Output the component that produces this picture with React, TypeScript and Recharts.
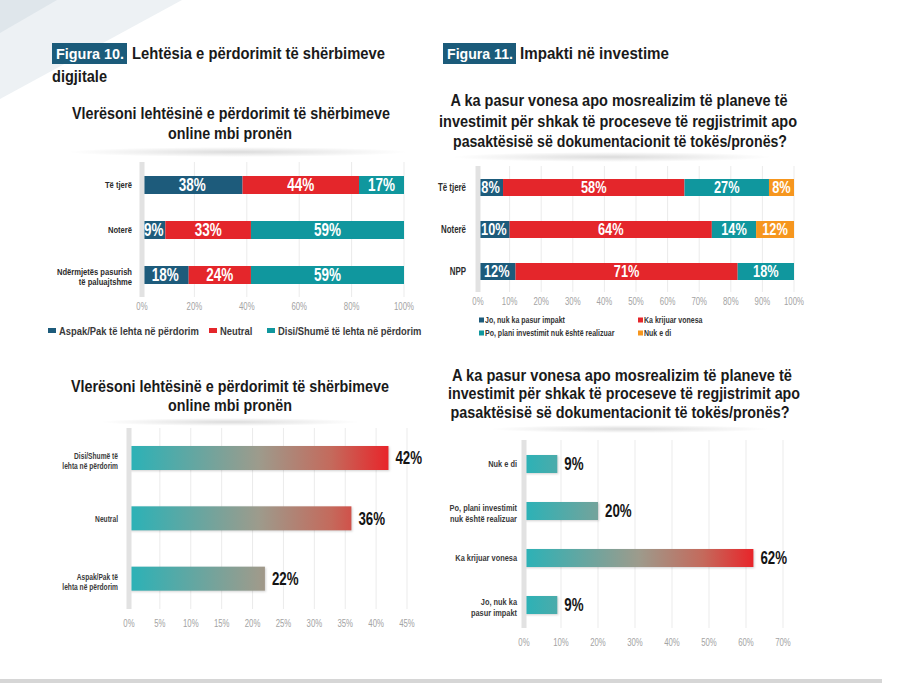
import React from 'react';
import { BarChart, Bar, XAxis, YAxis, CartesianGrid, LabelList, ReferenceLine } from 'recharts';

// Arial-metric face, squeezed horizontally to get the condensed look
const FONT = "'Liberation Sans', Arial, sans-serif";

const DARK_BLUE = '#1d5b7b';
const RED = '#e4262b';
const TEAL = '#10979e';
const ORANGE = '#f6961e';
const BADGE = '#1b5b7a';

// Figura 10 – ease of use by group (shares per row)
const easeGroups = ['Të tjerë', 'Noterë', 'Ndërmjetës pasurish\ntë paluajtshme'];
const easeLow = [38, 9, 18];
const easeNeutral = [44, 33, 24];
const easeHigh = [17, 59, 59];
const easeLegend = ['Aspak/Pak të lehta në përdorim', 'Neutral', 'Disi/Shumë të lehta në përdorim'];
const easeColors = [DARK_BLUE, RED, TEAL];
const easeTicks = [0, 0.2, 0.4, 0.6, 0.8, 1];

// Figura 10 – ease of use, all respondents
const easeTotalCats = ['Disi/Shumë të\nlehta në përdorim', 'Neutral', 'Aspak/Pak të\nlehta në përdorim'];
const easeTotalValues = [42, 36, 22];
const easeTotalTicks = [0, 5, 10, 15, 20, 25, 30, 35, 40, 45];

// Figura 11 – impact on investments by group
const impactGroups = ['Të tjerë', 'Noterë', 'NPP'];
const impactNone = [8, 10, 12];
const impactDelay = [58, 64, 71];
const impactNotRealized = [27, 14, 18];
const impactDontKnow = [8, 12, 0];
const impactLegend = ['Jo, nuk ka pasur impakt', 'Ka krijuar vonesa', 'Po, plani investimit nuk është realizuar', 'Nuk e di'];
const impactColors = [DARK_BLUE, RED, TEAL, ORANGE];
const impactTicks = [0, 0.1, 0.2, 0.3, 0.4, 0.5, 0.6, 0.7, 0.8, 0.9, 1];

// Figura 11 – impact on investments, all respondents
const impactTotalCats = ['Nuk e di', 'Po, plani investimit\nnuk është realizuar', 'Ka krijuar vonesa', 'Jo, nuk ka\npasur impakt'];
const impactTotalValues = [9, 20, 62, 9];
const impactTotalTicks = [0, 10, 20, 30, 40, 50, 60, 70];

const easeData = easeGroups.map((name, i) => ({ name, low: easeLow[i], neutral: easeNeutral[i], high: easeHigh[i] }));
const easeTotalData = easeTotalCats.map((name, i) => ({ name, value: easeTotalValues[i] }));
const impactData = impactGroups.map((name, i) => ({
  name,
  none: impactNone[i],
  delay: impactDelay[i],
  notRealized: impactNotRealized[i],
  dontKnow: impactDontKnow[i],
}));
const impactTotalData = impactTotalCats.map((name, i) => ({ name, value: impactTotalValues[i] }));

const fraction = (v: number) => `${Math.round(v * 100)}%`;
const percent = (v: number) => `${v}%`;

// text drawn at (x, y) and narrowed with a horizontal scale
const Squeezed = ({ x, y, sx, size, weight = 400, fill, anchor = 'start', dy = '0.35em', children }: any) => (
  <text
    transform={`translate(${x} ${y}) scale(${sx} 1)`}
    textAnchor={anchor}
    dy={dy}
    fontFamily={FONT}
    fontSize={size}
    fontWeight={weight}
    fill={fill}
  >
    {children}
  </text>
);

// numeric tick under a horizontal axis
const AxisTick = (props: any) => {
  const { x, y, payload, format } = props;
  return (
    <Squeezed x={x} y={y} sx={0.78} size={10} fill="#a3a3a3" anchor="middle" dy="0.71em">
      {format(payload.value)}
    </Squeezed>
  );
};

// multi-line, right aligned category label
const CategoryTick = (props: any) => {
  const { x, y, payload, size, sx, color, gap } = props;
  const lines = String(payload.value).split('\n');
  const shift = lines.length > 1 ? 2.5 : 0;
  const first = -((lines.length - 1) * gap) / 2 + shift;
  return (
    <g>
      {lines.map((line, i) => (
        <Squeezed key={i} x={x} y={y + first + i * gap} sx={sx} size={size} weight={700} fill={color} anchor="end">
          {line}
        </Squeezed>
      ))}
    </g>
  );
};

// white share label centred in a stacked segment
const insideLabel = (size: number) => (props: any) => {
  const box = props.viewBox ?? props;
  if (!props.value) return null;
  return (
    <Squeezed x={box.x + box.width / 2} y={box.y + box.height / 2} sx={0.75} size={size} weight={700} fill="#fff" anchor="middle">
      {percent(props.value)}
    </Squeezed>
  );
};

// dark value label placed after the end of a bar
const endLabel = (props: any) => {
  const box = props.viewBox ?? props;
  return (
    <Squeezed x={box.x + box.width + 7} y={box.y + box.height / 2} sx={0.74} size={18} weight={700} fill="#141414">
      {percent(props.value)}
    </Squeezed>
  );
};

// bar filled teal -> red, the colour scale running from 0 up to the largest value
const gradientBar = (max: number, prefix: string) => (props: any) => {
  const { x, y, width, height, index, payload } = props;
  if (!width || width <= 0) return <g />;
  const id = `${prefix}-${index}`;
  return (
    <g>
      <defs>
        <linearGradient id={id} x1="0" y1="0" x2={max / payload.value} y2="0">
          <stop offset="0" stopColor="#2ab2b7" />
          <stop offset="0.5" stopColor="#9d9b8c" />
          <stop offset="0.78" stopColor="#c46a5c" />
          <stop offset="1" stopColor="#e8252a" />
        </linearGradient>
      </defs>
      <rect
        x={x}
        y={y}
        width={width}
        height={height}
        fill={`url(#${id})`}
        style={{ filter: 'drop-shadow(1px 1px 1px rgba(0,0,0,0.18))' }}
      />
    </g>
  );
};

const easeLegendX = [48, 209, 267];
const impactLegendPos = [
  [479, 320],
  [638, 320],
  [479, 333],
  [638, 333],
];

const Title = ({ x, y, text, len, size = 17, anchor = 'start' }: any) => (
  <text
    x={x}
    y={y}
    textAnchor={anchor}
    fontFamily={FONT}
    fontWeight={700}
    fontSize={size}
    fill="#1a1a1a"
    textLength={len}
    lengthAdjust="spacingAndGlyphs"
  >
    {text}
  </text>
);

const gridStroke = '#ebebeb';
const zeroLine = <ReferenceLine x={0} stroke="#e2e2e2" strokeWidth={5} />;

const App = () => {
  return (
    <div style={{ position: 'absolute', left: 0, top: 0, width: 900, height: 683, background: '#fff', overflow: 'hidden' }}>
      {/* page decoration */}
      <svg width={900} height={683} style={{ position: 'absolute', left: 0, top: 0 }}>
        <defs>
          <radialGradient id="shade">
            <stop offset="0" stopColor="#000" stopOpacity={0.14} />
            <stop offset="1" stopColor="#000" stopOpacity={0} />
          </radialGradient>
        </defs>
        <polygon points="0,0 182,0 0,99" fill="#edf1f4" />
        <polygon points="0,0 57,0 0,33" fill="#dfe6eb" />
        <ellipse cx={238} cy={152} rx={170} ry={5} fill="url(#shade)" />
        <ellipse cx={612} cy={157} rx={160} ry={5} fill="url(#shade)" />
        <ellipse cx={230} cy={422} rx={130} ry={4} fill="url(#shade)" />
        <ellipse cx={630} cy={429} rx={140} ry={4} fill="url(#shade)" />
        <rect x={0} y={679} width={882} height={4} fill="#d6d6d6" />
      </svg>

      {/* Figura 10 – by group */}
      <div style={{ position: 'absolute', left: 40, top: 150 }}>
        <BarChart
          width={400}
          height={180}
          data={easeData}
          layout="vertical"
          stackOffset="expand"
          margin={{ top: 12, right: 36, bottom: 0, left: 0 }}
        >
          <CartesianGrid horizontal={false} stroke={gridStroke} />
          <XAxis
            type="number"
            domain={[0, 1]}
            ticks={easeTicks}
            axisLine={false}
            tickLine={false}
            tickSize={4}
            tickMargin={2}
            height={33}
            tick={(p: any) => <AxisTick {...p} format={fraction} />}
          />
          <YAxis
            type="category"
            dataKey="name"
            width={102}
            axisLine={false}
            tickLine={false}
            tickSize={0}
            tickMargin={10}
            tick={(p: any) => <CategoryTick {...p} size={9.5} sx={0.8} color="#2b2b2b" gap={10} />}
          />
          {zeroLine}
          <Bar dataKey="low" stackId="a" fill={easeColors[0]} barSize={18} isAnimationActive={false}>
            <LabelList dataKey="low" content={insideLabel(18)} />
          </Bar>
          <Bar dataKey="neutral" stackId="a" fill={easeColors[1]} barSize={18} isAnimationActive={false}>
            <LabelList dataKey="neutral" content={insideLabel(18)} />
          </Bar>
          <Bar dataKey="high" stackId="a" fill={easeColors[2]} barSize={18} isAnimationActive={false}>
            <LabelList dataKey="high" content={insideLabel(18)} />
          </Bar>
        </BarChart>
      </div>

      {/* Figura 11 – by group */}
      <div style={{ position: 'absolute', left: 430, top: 150 }}>
        <BarChart
          width={410}
          height={170}
          data={impactData}
          layout="vertical"
          stackOffset="expand"
          margin={{ top: 16, right: 46, bottom: 0, left: 0 }}
        >
          <CartesianGrid horizontal={false} stroke={gridStroke} />
          <XAxis
            type="number"
            domain={[0, 1]}
            ticks={impactTicks}
            axisLine={false}
            tickLine={false}
            tickSize={4}
            tickMargin={2}
            height={28}
            tick={(p: any) => <AxisTick {...p} format={fraction} />}
          />
          <YAxis
            type="category"
            dataKey="name"
            width={48}
            axisLine={false}
            tickLine={false}
            tickSize={0}
            tickMargin={12}
            tick={(p: any) => <CategoryTick {...p} size={10} sx={0.79} color="#2b2b2b" gap={9} />}
          />
          {zeroLine}
          <Bar dataKey="none" stackId="a" fill={impactColors[0]} barSize={17} isAnimationActive={false}>
            <LabelList dataKey="none" content={insideLabel(17)} />
          </Bar>
          <Bar dataKey="delay" stackId="a" fill={impactColors[1]} barSize={17} isAnimationActive={false}>
            <LabelList dataKey="delay" content={insideLabel(17)} />
          </Bar>
          <Bar dataKey="notRealized" stackId="a" fill={impactColors[2]} barSize={17} isAnimationActive={false}>
            <LabelList dataKey="notRealized" content={insideLabel(17)} />
          </Bar>
          <Bar dataKey="dontKnow" stackId="a" fill={impactColors[3]} barSize={17} isAnimationActive={false}>
            <LabelList dataKey="dontKnow" content={insideLabel(17)} />
          </Bar>
        </BarChart>
      </div>

      {/* Figura 10 – all respondents */}
      <div style={{ position: 'absolute', left: 40, top: 420 }}>
        <BarChart
          width={400}
          height={220}
          data={easeTotalData}
          layout="vertical"
          margin={{ top: 8, right: 33, bottom: 0, left: 0 }}
        >
          <CartesianGrid horizontal={false} stroke={gridStroke} />
          <XAxis
            type="number"
            domain={[0, 45]}
            ticks={easeTotalTicks}
            axisLine={false}
            tickLine={false}
            tickSize={8}
            tickMargin={3}
            height={31}
            tick={(p: any) => <AxisTick {...p} format={percent} />}
          />
          <YAxis
            type="category"
            dataKey="name"
            width={89}
            axisLine={false}
            tickLine={false}
            tickSize={0}
            tickMargin={11}
            tick={(p: any) => <CategoryTick {...p} size={9.5} sx={0.7} color="#3a3a3a" gap={10} />}
          />
          {zeroLine}
          <Bar
            dataKey="value"
            barSize={24}
            isAnimationActive={false}
            shape={gradientBar(Math.max(...easeTotalValues), 'ease-total')}
          >
            <LabelList dataKey="value" content={endLabel} />
          </Bar>
        </BarChart>
      </div>

      {/* Figura 11 – all respondents */}
      <div style={{ position: 'absolute', left: 430, top: 430 }}>
        <BarChart
          width={410}
          height={230}
          data={impactTotalData}
          layout="vertical"
          margin={{ top: 10, right: 57, bottom: 0, left: 0 }}
        >
          <CartesianGrid horizontal={false} stroke={gridStroke} />
          <XAxis
            type="number"
            domain={[0, 70]}
            ticks={impactTotalTicks}
            axisLine={false}
            tickLine={false}
            tickSize={8}
            tickMargin={3}
            height={32}
            tick={(p: any) => <AxisTick {...p} format={percent} />}
          />
          <YAxis
            type="category"
            dataKey="name"
            width={94}
            axisLine={false}
            tickLine={false}
            tickSize={0}
            tickMargin={7}
            tick={(p: any) => <CategoryTick {...p} size={9.5} sx={0.78} color="#3a3a3a" gap={11} />}
          />
          {zeroLine}
          <Bar
            dataKey="value"
            barSize={18}
            isAnimationActive={false}
            shape={gradientBar(Math.max(...impactTotalValues), 'impact-total')}
          >
            <LabelList dataKey="value" content={endLabel} />
          </Bar>
        </BarChart>
      </div>

      {/* headings and legends */}
      <svg width={900} height={683} style={{ position: 'absolute', left: 0, top: 0, pointerEvents: 'none' }}>
        <rect x={52} y={43} width={75} height={21} fill={BADGE} />
        <text x={56} y={59} fill="#fff" fontFamily={FONT} fontWeight={700} fontSize={14.5} textLength={68} lengthAdjust="spacingAndGlyphs">
          Figura 10.
        </text>
        <Title x={132} y={59} text="Lehtësia e përdorimit të shërbimeve" len={253} />
        <Title x={52} y={82} text="digjitale" len={55} />

        <rect x={443} y={43} width={73} height={21} fill={BADGE} />
        <text x={447} y={59} fill="#fff" fontFamily={FONT} fontWeight={700} fontSize={14.5} textLength={66} lengthAdjust="spacingAndGlyphs">
          Figura 11.
        </text>
        <Title x={520} y={59} text="Impakti në investime" len={149} />

        <Title x={231} y={119} anchor="middle" text="Vlerësoni lehtësinë e përdorimit të shërbimeve" len={318} />
        <Title x={230} y={139} anchor="middle" text="online mbi pronën" len={124} />

        <Title x={619} y={106} anchor="middle" text="A ka pasur vonesa apo mosrealizim të planeve të" len={337} />
        <Title x={618} y={127} anchor="middle" text="investimit për shkak të proceseve të regjistrimit apo" len={358} />
        <Title x={620} y={147} anchor="middle" text="pasaktësisë së dokumentacionit të tokës/pronës?" len={334} />

        <Title x={230} y={392} anchor="middle" text="Vlerësoni lehtësinë e përdorimit të shërbimeve" len={318} />
        <Title x={230} y={411} anchor="middle" text="online mbi pronën" len={124} />

        <Title x={622} y={381} anchor="middle" text="A ka pasur vonesa apo mosrealizim të planeve të" len={340} />
        <Title x={624} y={399} anchor="middle" text="investimit për shkak të proceseve të regjistrimit apo" len={352} />
        <Title x={620} y={418} anchor="middle" text="pasaktësisë së dokumentacionit të tokës/pronës?" len={339} />

        {easeLegend.map((label, i) => (
          <g key={label}>
            <rect x={easeLegendX[i]} y={328} width={8} height={5} fill={easeColors[i]} />
            <Squeezed x={easeLegendX[i] + 11} y={331} sx={0.94} size={10} weight={700} fill="#3a3a3a">
              {label}
            </Squeezed>
          </g>
        ))}

        {impactLegend.map((label, i) => (
          <g key={label}>
            <rect x={impactLegendPos[i][0]} y={impactLegendPos[i][1] - 2.5} width={5} height={5} fill={impactColors[i]} />
            <Squeezed x={impactLegendPos[i][0] + 6} y={impactLegendPos[i][1]} sx={0.78} size={9} weight={700} fill="#333">
              {label}
            </Squeezed>
          </g>
        ))}
      </svg>
    </div>
  );
};

export default App;
